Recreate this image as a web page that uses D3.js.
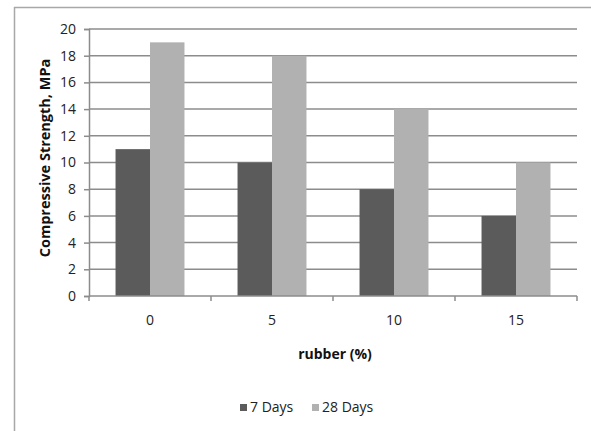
<!DOCTYPE html>
<html><head><meta charset="utf-8">
<script src="https://cdn.jsdelivr.net/npm/d3@7"></script>
<style>body{margin:0;background:#fff}svg{display:block}text{font-family:"Open Sans",sans-serif}</style>
</head><body>
<script>
const categories = ["0","5","10","15"];
const seriesNames = ["7 Days","28 Days"];
const days7 = [11,10,8,6];
const days28 = [19,18,14,10];
const yTicks = [0,2,4,6,8,10,12,14,16,18,20];
const colors = ["#5b5b5b","#b1b1b1"];

const W=591,H=431;
const svg=d3.select("body").append("svg").attr("width",W).attr("height",H);
// outer frame
svg.append("line").attr("x1",14).attr("x2",W).attr("y1",7.5).attr("y2",7.5).attr("stroke","#a8a8a8").attr("stroke-width",1.5);
svg.append("line").attr("x1",14.5).attr("x2",14.5).attr("y1",7).attr("y2",H).attr("stroke","#a8a8a8").attr("stroke-width",1.5);

const L=89,R=577,T=29,B=296;
const x=d3.scaleBand().domain(categories).range([L,R]);
const xs=d3.scaleBand().domain(seriesNames).range([0,x.bandwidth()]).paddingInner(0).paddingOuter(0.77);
const y=d3.scaleLinear().domain([0,20]).range([B,T]);

// gridlines
svg.append("g").selectAll("line").data(yTicks.filter(d=>d>0)).join("line")
 .attr("x1",L).attr("x2",R).attr("y1",d=>y(d)).attr("y2",d=>y(d)).attr("stroke","#8c8c8c").attr("stroke-width",1.5);

const data=categories.map((c,i)=>({c,vals:[days7[i],days28[i]]}));
svg.append("g").selectAll("g").data(data).join("g").attr("transform",d=>`translate(${x(d.c)},0)`)
 .selectAll("rect").data(d=>d.vals.map((v,j)=>({s:seriesNames[j],v,j}))).join("rect")
 .attr("x",d=>xs(d.s)).attr("width",xs.bandwidth()).attr("y",d=>y(d.v)).attr("height",d=>B-y(d.v)).attr("fill",d=>colors[d.j]);

// y axis
const ya=svg.append("g").attr("transform",`translate(${L},0)`).call(d3.axisLeft(y).tickValues(yTicks).tickSize(5).tickPadding(8));
ya.select(".domain").attr("stroke","#8c8c8c").attr("stroke-width",1.5);
ya.selectAll(".tick line").attr("stroke","#8c8c8c").attr("stroke-width",1.5);
ya.selectAll("text").attr("font-size",14).attr("fill","#222").attr("font-family","Open Sans");

// x axis
svg.append("line").attr("x1",L).attr("x2",R).attr("y1",B).attr("y2",B).attr("stroke","#8c8c8c").attr("stroke-width",1.5);
const bounds=categories.map(c=>x(c)).concat([R]);
svg.append("g").selectAll("line").data(bounds).join("line").attr("x1",d=>d).attr("x2",d=>d).attr("y1",B).attr("y2",B+5).attr("stroke","#8c8c8c").attr("stroke-width",1.5);
const xa=svg.append("g").attr("transform",`translate(0,${B})`).call(d3.axisBottom(x).tickSize(0).tickPadding(19));
xa.select(".domain").remove();
xa.selectAll("text").attr("font-size",14).attr("fill","#222").attr("font-family","Open Sans");

// titles
svg.append("text").attr("x",335).attr("y",359).attr("text-anchor","middle").attr("font-size",14).attr("font-weight","bold").attr("fill","#111").text("rubber (%)");
svg.append("text").attr("transform","translate(50,158) rotate(-90)").attr("text-anchor","middle").attr("font-size",14.5).attr("font-weight","bold").attr("fill","#111").text("Compressive Strength, MPa");

// legend
const lg=svg.append("g");
const items=[{n:seriesNames[0],x:240},{n:seriesNames[1],x:312}];
items.forEach((it,i)=>{
 lg.append("rect").attr("x",it.x).attr("y",404).attr("width",7).attr("height",7).attr("fill",colors[i]);
 lg.append("text").attr("x",it.x+10).attr("y",412).attr("font-size",14).attr("fill","#222").text(it.n);
});
</script>
</body></html>
